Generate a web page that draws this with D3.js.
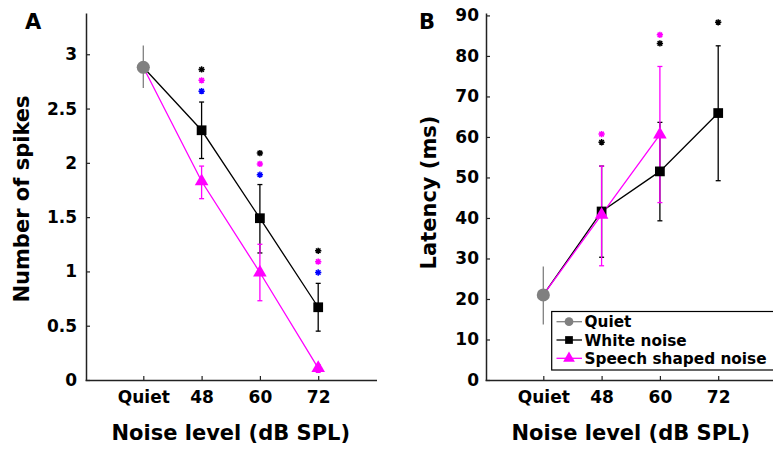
<!DOCTYPE html>
<html><head><meta charset="utf-8">
<script src="https://cdn.jsdelivr.net/npm/d3@7"></script>
<style>
html,body{margin:0;padding:0;background:#fff;}
svg text{font-family:"DejaVu Sans",sans-serif;font-weight:bold;fill:#000;}
</style></head>
<body><svg id="c" width="773" height="449"></svg>
<script>
// ---- data ----
const levels = ["Quiet", "48", "60", "72"];
const levelPos = [1, 2, 3, 4];

// Panel A: number of spikes
const spikesQuiet = [2.88], spikesQuietLo = [2.69], spikesQuietHi = [3.08];
const spikesWhite = [2.30, 1.49, 0.67], spikesWhiteLo = [2.04, 1.17, 0.45], spikesWhiteHi = [2.56, 1.80, 0.89];
const spikesSpeech = [1.83, 0.99, 0.11], spikesSpeechLo = [1.67, 0.73, 0.07], spikesSpeechHi = [1.97, 1.25, 0.14];
const spikesStarBlack = [2.86, 2.09, 1.19];
const spikesStarMagenta = [2.76, 1.99, 1.09];
const spikesStarBlue = [2.66, 1.89, 0.99];
const spikesTicks = [0, 0.5, 1, 1.5, 2, 2.5, 3];

// Panel B: latency (ms)
const latQuiet = [21], latQuietLo = [13.7], latQuietHi = [28];
const latWhite = [41.6, 51.5, 65.9], latWhiteLo = [30.3, 39.3, 49.2], latWhiteHi = [52.8, 63.6, 82.5];
const latSpeech = [40.8, 60.6], latSpeechLo = [28.2, 43.8], latSpeechHi = [52.8, 77.4];
const latStarBlack = [58.7, 83.1, 88.3];
const latStarMagenta = [60.7, 85.2];
const latTicks = [0, 10, 20, 30, 40, 50, 60, 70, 80, 90];

const legendLabels = ["Quiet", "White noise", "Speech shaped noise"];

// ---- drawing ----
const svg = d3.select("#c");
const GRAY = "#808080", MAG = "#ff00ff", BLUE = "#0000ff", BLK = "#000";

// MATLAB-style '*' marker: plus + cross
const symbolStar = {
  draw(ctx, size) {
    const r = Math.sqrt(size) / 2, d = r * 0.72;
    ctx.moveTo(-r, 0); ctx.lineTo(r, 0);
    ctx.moveTo(0, -r); ctx.lineTo(0, r);
    ctx.moveTo(-d, -d); ctx.lineTo(d, d);
    ctx.moveTo(-d, d); ctx.lineTo(d, -d);
  }
};

function panel(opts) {
  const x = d3.scaleLinear([0, 5], opts.xr);
  const y = d3.scaleLinear([0, opts.ymax], [380, 13]);
  const g = svg.append("g");

  const xa = g.append("g").attr("transform", "translate(0,380)")
    .call(d3.axisBottom(x).tickValues(levelPos).tickFormat((d, i) => levels[i])
      .tickSizeInner(-4).tickSizeOuter(0).tickPadding(11));
  const ya = g.append("g").attr("transform", `translate(${opts.xr[0] + 1},0)`)
    .call(d3.axisLeft(y).tickValues(opts.ticks).tickFormat(d3.format("~g"))
      .tickSizeInner(-4).tickSizeOuter(0).tickPadding(opts.pad));
  [xa, ya].forEach(a => {
    a.select(".domain").attr("stroke", "#222").attr("stroke-width", 1.5);
    a.selectAll(".tick line").attr("stroke", "#222").attr("stroke-width", 1.2);
    a.selectAll("text").attr("font-size", 17).attr("font-family", "DejaVu Sans").attr("font-weight", "bold").attr("fill", "#000");
  });

  const line = d3.line().x(d => x(d[0])).y(d => y(d[1]));
  const whitePts = [[1, opts.quiet[0]]].concat(opts.white.map((v, i) => [levelPos[i + 1], v]));
  const speechPts = [[1, opts.quiet[0]]].concat(opts.speech.map((v, i) => [levelPos[i + 1], v]));
  g.append("path").attr("d", line(whitePts)).attr("fill", "none").attr("stroke", BLK).attr("stroke-width", 1.3);

  function errbars(xs, lo, hi, color, cap) {
    xs.forEach((xv, i) => {
      const px = x(xv);
      g.append("line").attr("x1", px).attr("x2", px).attr("y1", y(lo[i])).attr("y2", y(hi[i]))
        .attr("stroke", color).attr("stroke-width", 1.3);
      if (cap) {
        [lo[i], hi[i]].forEach(v => g.append("line").attr("x1", px - 2.5).attr("x2", px + 2.5)
          .attr("y1", y(v)).attr("y2", y(v)).attr("stroke", color).attr("stroke-width", 1.3));
      }
    });
  }
  errbars([1], opts.quietLo, opts.quietHi, GRAY, false);
  errbars(levelPos.slice(1, 1 + opts.white.length), opts.whiteLo, opts.whiteHi, BLK, true);
  g.append("path").attr("d", line(speechPts)).attr("fill", "none").attr("stroke", MAG).attr("stroke-width", 1.3);
  errbars(levelPos.slice(1, 1 + opts.speech.length), opts.speechLo, opts.speechHi, MAG, true);

  const sq = d3.symbol(d3.symbolSquare, 95)();
  const tri = d3.symbol(d3.symbolTriangle, 80)();
  const cir = d3.symbol(d3.symbolCircle, 135)();
  opts.white.forEach((v, i) => g.append("path").attr("d", sq)
    .attr("transform", `translate(${x(levelPos[i + 1])},${y(v)})`).attr("fill", BLK));
  opts.speech.forEach((v, i) => g.append("path").attr("d", tri)
    .attr("transform", `translate(${x(levelPos[i + 1])},${y(v)})`).attr("fill", MAG));
  g.append("path").attr("d", cir).attr("transform", `translate(${x(1)},${y(opts.quiet[0])})`).attr("fill", GRAY);

  const ast = d3.symbol(symbolStar, 40)();
  opts.stars.forEach(s => {
    s.vals.forEach((v, i) => g.append("path").attr("d", ast)
      .attr("transform", `translate(${x(levelPos[i + 1])},${y(v)})`)
      .attr("fill", "none").attr("stroke", s.color).attr("stroke-width", 1.5));
  });

  g.append("text").attr("x", opts.letterX).attr("y", 29).attr("font-size", 21).text(opts.letter);
  g.append("text").attr("x", (opts.xr[0] + x(5)) / 2).attr("y", 439.5).attr("text-anchor", "middle")
    .attr("font-size", 21).text("Noise level (dB SPL)");
  g.append("text").attr("transform", `translate(${opts.ylabX},${opts.ylabY}) rotate(-90)`)
    .attr("text-anchor", "middle").attr("font-size", 21).text(opts.ylabel);
}

panel({
  xr: [85, 376.5], ymax: 3.38, ticks: spikesTicks, pad: 9,
  quiet: spikesQuiet, quietLo: spikesQuietLo, quietHi: spikesQuietHi,
  white: spikesWhite, whiteLo: spikesWhiteLo, whiteHi: spikesWhiteHi,
  speech: spikesSpeech, speechLo: spikesSpeechLo, speechHi: spikesSpeechHi,
  stars: [{vals: spikesStarBlack, color: BLK}, {vals: spikesStarMagenta, color: MAG}, {vals: spikesStarBlue, color: BLUE}],
  letter: "A", letterX: 25, ylabel: "Number of spikes", ylabX: 29, ylabY: 199
});

panel({
  xr: [485, 776.5], ymax: 90.6, ticks: latTicks, pad: 7,
  quiet: latQuiet, quietLo: latQuietLo, quietHi: latQuietHi,
  white: latWhite, whiteLo: latWhiteLo, whiteHi: latWhiteHi,
  speech: latSpeech, speechLo: latSpeechLo, speechHi: latSpeechHi,
  stars: [{vals: latStarMagenta, color: MAG}, {vals: latStarBlack, color: BLK}],
  letter: "B", letterX: 419, ylabel: "Latency (ms)", ylabX: 436, ylabY: 192.5
});

// legend
const lg = svg.append("g");
lg.append("rect").attr("x", 551.7).attr("y", 311.5).attr("width", 240).attr("height", 58.5)
  .attr("fill", "#fff").attr("stroke", "#000").attr("stroke-width", 1.2);
const legColors = [GRAY, BLK, MAG];
const legSyms = [d3.symbol(d3.symbolCircle, 60)(), d3.symbol(d3.symbolSquare, 60)(), d3.symbol(d3.symbolTriangle, 60)()];
legendLabels.forEach((t, i) => {
  const cy = 321.7 + i * 18.3;
  lg.append("line").attr("x1", 556.5).attr("x2", 582).attr("y1", cy).attr("y2", cy)
    .attr("stroke", legColors[i]).attr("stroke-width", 1.3);
  lg.append("path").attr("d", legSyms[i]).attr("transform", `translate(569,${cy})`).attr("fill", legColors[i]);
  lg.append("text").attr("x", 584.5).attr("y", cy + 5.6).attr("font-size", 15.3).text(t);
});
</script></body></html>
